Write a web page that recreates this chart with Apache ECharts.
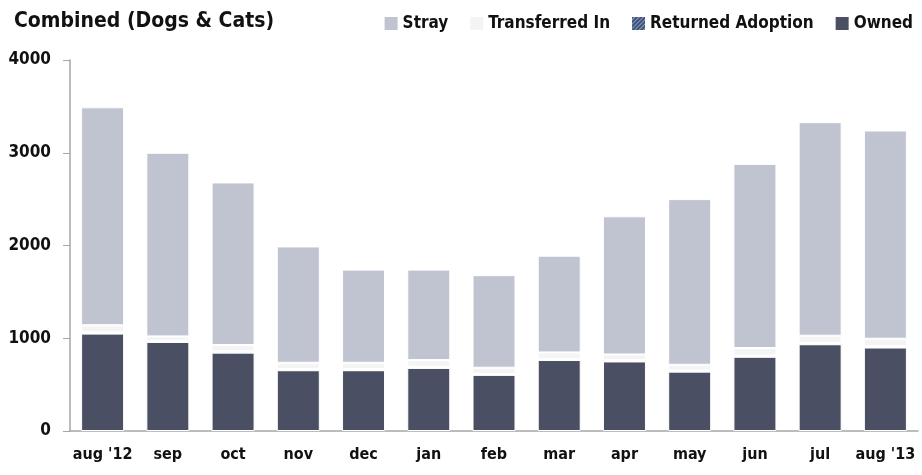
<!DOCTYPE html>
<html>
<head>
<meta charset="utf-8">
<script src="https://cdn.jsdelivr.net/npm/echarts@6/dist/echarts.min.js"></script>
<style>html,body{margin:0;padding:0;background:#fff}#c{width:922px;height:475px}</style>
</head>
<body>
<div id="c"></div>
<script>
var categories = ["aug '12", "sep", "oct", "nov", "dec", "jan", "feb", "mar", "apr", "may", "jun", "jul", "aug '13"];
var owned = [1050, 960, 845, 655, 655, 680, 605, 765, 750, 640, 800, 935, 900];
var returnedAdoption = [15, 12, 14, 12, 11, 13, 10, 12, 13, 11, 14, 15, 14];
var transferredIn = [75, 48, 68, 69, 70, 72, 67, 70, 62, 63, 80, 77, 81];
var stray = [2350, 1980, 1753, 1254, 1004, 975, 998, 1043, 1490, 1786, 1986, 2303, 2245];
var yTicks = [0, 1000, 2000, 3000, 4000];

var FONT = '"DejaVu Sans Condensed", "Liberation Sans Narrow", sans-serif';
var chart = echarts.init(document.getElementById('c'), null, {renderer: 'canvas'});
function bar(name, data, color, extra) {
  return {
    name: name, type: 'bar', stack: 'total', data: data, barWidth: 43,
    itemStyle: Object.assign({color: color, borderColor: '#ffffff', borderWidth: 1}, extra || {})
  };
}
chart.setOption({
  animation: false,
  title: {
    text: 'Combined (Dogs & Cats)', left: 9, top: 6,
    textStyle: {fontFamily: FONT, fontWeight: 'bold', fontSize: 21, color: '#111'}
  },
  legend: {
    right: 4, top: 10, itemWidth: 15, itemHeight: 15, itemGap: 20, icon: 'rect',
    data: ['Stray', 'Transferred In', 'Returned Adoption', 'Owned'],
    textStyle: {fontFamily: FONT, fontWeight: 'bold', fontSize: 17, color: '#111', padding: [0, 0, 0, -1]}
  },
  grid: {left: 70, right: 4, top: 60, bottom: 44, containLabel: false},
  xAxis: {
    type: 'category', data: categories,
    axisLine: {lineStyle: {color: '#a6a6a6', width: 1.5}},
    axisTick: {alignWithLabel: true, length: 6, lineStyle: {color: '#a6a6a6'}},
    axisLabel: {fontFamily: FONT, fontWeight: 'bold', fontSize: 16, color: '#111', margin: 16, interval: 0}
  },
  yAxis: {
    type: 'value', min: yTicks[0], max: yTicks[yTicks.length - 1], interval: 1000,
    axisLine: {show: true, lineStyle: {color: '#a6a6a6', width: 1.5}},
    axisTick: {show: true, length: 7, lineStyle: {color: '#a6a6a6'}},
    splitLine: {show: false},
    axisLabel: {fontFamily: FONT, fontWeight: 'bold', fontSize: 17, color: '#111', margin: 19,
      formatter: function (v) { return String(v); }}
  },
  series: [
    bar('Owned', owned, '#4a4f63'),
    bar('Returned Adoption', returnedAdoption, '#3e527a', {
      decal: {symbol: 'rect', symbolSize: 1, dashArrayX: [1, 0], dashArrayY: [1, 2], rotation: -Math.PI / 4, color: '#8a9cc0'}
    }),
    bar('Transferred In', transferredIn, '#f4f4f4'),
    bar('Stray', stray, '#c0c4d1')
  ]
});
</script>
</body>
</html>
